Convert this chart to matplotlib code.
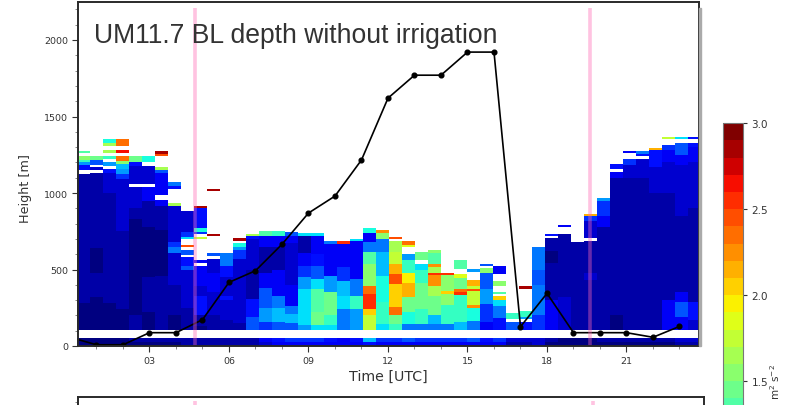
"""UM11.7 boundary layer depth over velocity variance curtain"""
import numpy as np
import matplotlib
matplotlib.use("Agg")
import matplotlib.pyplot as plt
from matplotlib.patches import Rectangle

# boundary layer depth, hourly [m]
bl_hours = list(range(0, 24))
bl_depth = [57, 8, 8, 87, 87, 172, 416, 492, 665, 869, 980, 1216, 1620, 1770,
            1770, 1921, 1921, 126, 344, 87, 87, 87, 57, 128]

# lowest gates per time column, level = value / 0.1
lowest_gate = [0, 0, 0, 0, 0, 0, 0, 0, 1, 1, 1, 1, 1, 1, 2, 3, 3, 3, 3, 3, 3, 3, 4, 3,
               3, 3, 3, 3, 3, 3, 3, 3, 3, 1, 1, 2, 0, 0, 0, 0, 0, 0, 0, 0, 0, 0, 1, 1]
second_gate = [0, 0, 0, 0, 1, 1, 1, 1, 1, 1, 1, 1, 1, 1, 3, 4, 5, 5, 5, 4, 3, 4, 9, 5,
               5, 6, 5, 5, 5, 5, 6, 4, 5, 2, 2, 2, 1, 0, 0, 0, 1, 1, 1, 1, 1, 1, 2, 2]

# each time column from 106 m upwards: (top of run in m, level), None is no data
column_runs = [
    [(280, 0), (550, 1), (1125, 1), (1150, None), (1180, 4), (1200, 8), (1215, 12), (1240, 15), (1258, None), (1275, 13)],
    [(320, 0), (480, 1), (640, 0), (1130, 1), (1152, None), (1170, 2), (1185, None), (1215, 6), (1240, 14)],
    [(280, 0), (1000, 1), (1130, 2), (1158, 4), (1173, None), (1205, 8), (1219, None), (1238, 12), (1260, None), (1280, 16), (1312, None), (1330, 16), (1350, 11)],
    [(240, 0), (750, 1), (1090, 2), (1125, 5), (1158, 8), (1190, 9), (1212, 15), (1238, 23), (1260, None), (1280, 26), (1312, None), (1350, 23)],
    [(200, 1), (830, 0), (900, 1), (1038, 2), (1060, None), (1173, 2), (1205, 4), (1238, 14)],
    [(220, 0), (450, 1), (780, 0), (950, 1), (1038, 3), (1060, None), (1173, 2), (1205, None), (1238, 11)],
    [(460, 1), (760, 0), (915, 1), (955, 3), (987, None), (1090, 3), (1130, 3), (1150, 6), (1168, 16), (1240, None), (1255, 24), (1275, 28)],
    [(200, 0), (400, 1), (610, 2), (650, 7), (680, 5), (915, 2), (935, 16), (1025, None), (1045, 4), (1077, 7)],
    [(250, 1), (500, 2), (525, 6), (578, 4), (595, None), (628, 6), (645, None), (662, 24), (700, None), (717, 10), (743, 5), (880, 2)],
    [(130, 0), (200, 1), (330, 4), (395, 2), (520, 3), (540, None), (558, 3), (700, None), (717, 17), (735, None), (745, 5), (770, 11), (900, 4), (913, 28)],
    [(200, 1), (350, 2), (480, 3), (570, 2), (590, None), (607, 6), (720, None), (737, 28), (1010, None), (1027, 28)],
    [(170, 1), (300, 2), (330, 4), (450, 2), (520, 4), (608, 7)],
    [(150, 1), (570, 2), (630, 5), (650, 8), (672, 11), (685, None), (705, 28)],
    [(190, 6), (310, 4), (500, 1), (700, 2), (720, 4), (735, 16)],
    [(160, 5), (250, 8), (380, 6), (480, 3), (650, 1), (720, 3), (752, 13)],
    [(160, 6), (250, 9), (330, 7), (500, 3), (650, 1), (720, 3), (752, 12)],
    [(150, 6), (210, 9), (260, 7), (400, 3), (670, 2), (720, 3), (745, 6)],
    [(140, 8), (370, 10), (450, 8), (525, 5), (610, 3), (720, 1), (740, 10)],
    [(140, 10), (220, 14), (370, 13), (440, 10), (525, 6), (600, 4), (722, 3), (740, 10)],
    [(140, 10), (200, 12), (350, 14), (460, 8), (665, 3), (685, 7)],
    [(240, 7), (330, 10), (425, 9), (515, 5), (665, 3), (685, 25)],
    [(240, 8), (330, 12), (440, 7), (685, 3), (700, 10)],
    [(199, 17), (242, 20), (340, 25), (395, 23), (537, 15), (613, 13), (678, 7), (740, 3), (770, 11)],
    [(145, 10), (286, 12), (460, 11), (613, 9), (700, 7), (740, 15), (755, 22)],
    [(145, 12), (199, 14), (253, 23), (405, 20), (470, 24), (537, 21), (613, 17), (685, 16), (700, None), (717, 24)],
    [(145, 7), (220, 11), (318, 14), (416, 21), (482, 19), (558, 12), (600, 8), (650, None), (660, 18), (685, 23)],
    [(145, 7), (242, 12), (416, 14), (493, 12), (537, 10), (558, None), (613, 14)],
    [(145, 7), (199, 9), (329, 14), (395, 16), (466, 22), (482, 25), (515, 16), (537, 22), (605, 13), (628, 15)],
    [(145, 7), (264, 12), (340, 15), (362, 20), (466, 15), (482, 25)],
    [(155, 9), (335, 12), (355, 25), (377, 23), (445, 14), (470, 18), (504, None), (558, 13)],
    [(166, 7), (249, 11), (270, 22), (358, 17), (377, 24), (395, 17), (432, 21), (486, None), (504, 8)],
    [(155, 3), (275, 5), (373, 8), (482, 6), (508, 15), (520, None), (536, 6)],
    [(180, 4), (260, 7), (300, 10), (323, 20), (340, None), (355, 13), (395, None), (427, 15), (470, None), (520, 3)],
    [(160, 6), (176, None), (214, 12)],
    [(155, 4), (176, None), (190, 8), (231, 12), (377, None), (395, 28)],
    [(200, 5), (400, 7), (500, 6), (645, 7)],
    [(300, 3), (540, 1), (620, 0), (704, 1), (722, None), (737, 4)],
    [(320, 2), (737, 1), (774, None), (792, 3)],
    [(682, 1)],
    [(430, 1), (480, 2), (685, 1), (704, None), (820, 2), (848, 5), (863, 21)],
    [(520, 1), (780, 1), (850, 3), (950, 5), (972, 8)],
    [(200, 0), (1100, 1), (1136, 3), (1153, None), (1188, 4)],
    [(1100, 1), (1180, 2), (1223, 5), (1260, None), (1275, 3)],
    [(1100, 1), (1223, 2), (1240, None), (1256, 4), (1275, 7)],
    [(1000, 1), (1170, 2), (1278, 4), (1293, 21)],
    [(300, 3), (1000, 1), (1200, 2), (1280, 3), (1315, 5), (1350, None), (1367, 17)],
    [(190, 3), (285, 6), (350, 3), (850, 1), (1180, 2), (1250, 3), (1332, 6), (1350, None), (1367, 10)],
    [(170, 2), (290, 4), (900, 1), (1200, 2), (1300, 3), (1332, 4), (1350, None), (1367, 4)],
]

sunrise_sunset = [4.72, 19.62]

W, H = 794, 406
dark = "#2a2a2a"
txt = "#333333"


def px_axes(left, top, right, bottom):
    # pixel box of the reference to figure fractions
    return [left / W, 1 - bottom / H, (right - left) / W, (bottom - top) / H]


# gates on a 5 m grid
height_edges = np.arange(0, 1400, 5)
time_edges = np.linspace(0.264, 23.81, 49)
curtain = np.full((len(height_edges) - 1, len(column_runs)), np.nan)
mids = 0.5 * (height_edges[:-1] + height_edges[1:])
for j, runs in enumerate(column_runs):
    curtain[mids < 26, j] = (lowest_gate[j] + 0.5) * 0.1
    curtain[(mids >= 26) & (mids < 52), j] = (second_gate[j] + 0.5) * 0.1
    base = 106
    for top, level in runs:
        if level is not None:
            curtain[(mids >= base) & (mids < top), j] = (level + 0.5) * 0.1
        base = top

fig = plt.figure(figsize=(W / 100, H / 100), dpi=100)
cmap = plt.get_cmap("jet", 30)

ax = fig.add_axes(px_axes(78, 2.5, 698.5, 347))
mesh = ax.pcolormesh(time_edges, height_edges, curtain, cmap=cmap, vmin=0, vmax=3,
                     shading="flat", clip_on=False, zorder=1)
ax.plot(bl_hours, bl_depth, color="k", lw=1.2, marker="o", ms=3.4, zorder=3)
for t in sunrise_sunset:
    ax.vlines(t, 0, 2209, color="hotpink", alpha=0.4, lw=2.6, zorder=4)
ax.set_xlim(0.302, 23.717)
ax.set_ylim(0, 344.5 / 0.153)
ax.set_xticks(np.arange(3, 22, 3))
ax.set_xticklabels(["03", "06", "09", "12", "15", "18", "21"])
ax.set_xticks(np.arange(1, 24), minor=True)
ax.set_yticks(np.arange(0, 2001, 500))
ax.set_yticks(np.arange(0, 2201, 100), minor=True)
ax.tick_params(which="major", length=4, width=0.8, labelsize=6.8, colors=txt, pad=3)
ax.tick_params(which="minor", length=2.5, width=0.7, color="#888888")
ax.set_xlabel("Time [UTC]", fontsize=10.2, color=txt, labelpad=3)
for s in ax.spines.values():
    s.set_linewidth(1.4)
    s.set_color(dark)
    s.set_zorder(5)

fig.text(25 / W, 1 - 189 / H, "Height [m]", rotation=90, fontsize=9.2, color=txt,
         ha="center", va="center")

# grey edge of the pasted panel on the right
fig.patches.append(Rectangle((699.2 / W, 1 - 347 / H), 2.2 / W, 338 / H,
                             transform=fig.transFigure, color="#aaaaaa", zorder=0))

fig.text(94 / W, 1 - 43.3 / H, "UM11.7 BL depth without irrigation",
         fontsize=19.1, family="Liberation Sans", color=txt, va="baseline", zorder=10)

# next panel, only its top edge is in view
ax2 = fig.add_axes(px_axes(78, 398, 704, 743))
ax2.set_xlim(0.336, 23.79)
ax2.set_ylim(0, 2235)
ax2.set_xticks([])
ax2.set_yticks(np.arange(0, 2201, 100))
ax2.set_yticklabels([])
ax2.tick_params(length=2.5, width=0.7, color="#888888")
for t in sunrise_sunset:
    ax2.vlines(t, 0, 2211, color="hotpink", alpha=0.4, lw=2.6)
for s in ax2.spines.values():
    s.set_linewidth(1.4)
    s.set_color(dark)

cax = fig.add_axes(px_axes(723, 124.3, 743, 640))
cb = fig.colorbar(mesh, cax=cax)
cb.set_ticks([1.5, 2.0, 2.5, 3.0])
cb.ax.tick_params(length=3, width=0.8, labelsize=7.5, colors=txt, pad=3)
cb.outline.set_edgecolor("#777777")
cb.outline.set_linewidth(0.8)
fig.text(775 / W, 1 - 382 / H, r"m$^2$ s$^{-2}$", rotation=90, fontsize=7.5,
         color=txt, ha="center", va="center")

fig.savefig("out.png", dpi=100)
